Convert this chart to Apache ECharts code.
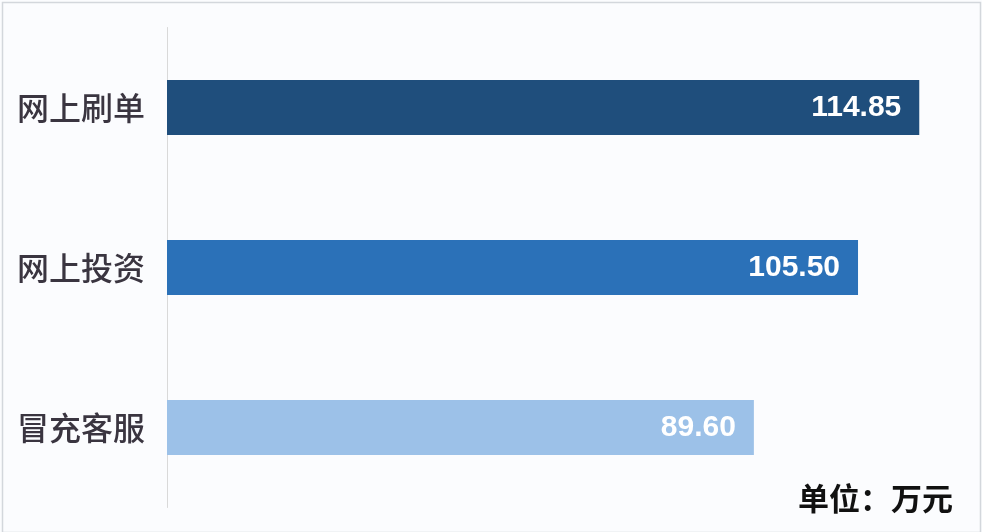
<!DOCTYPE html>
<html>
<head>
<meta charset="utf-8">
<script src="https://cdn.jsdelivr.net/npm/echarts@6/dist/echarts.min.js"></script>
<style>
html,body{margin:0;padding:0;background:#fbfcfe;}
#main{width:982px;height:532px;}
</style>
</head>
<body>
<div id="main"></div>
<script>
const categories = ['网上刷单', '网上投资', '冒充客服'];
const values = [114.85, 105.50, 89.60];
const barColors = ['#1f4e7c', '#2b71b8', '#9cc1e8'];
const unitText = '单位：万元';

const chart = echarts.init(document.getElementById('main'));
chart.setOption({
  backgroundColor: '#fbfcfe',
  animation: false,
  title: {
    text: unitText,
    right: 24,
    bottom: 13,
    textStyle: {
      fontFamily: 'Noto Sans CJK SC',
      fontSize: 31,
      fontWeight: 'bold',
      color: '#111'
    }
  },
  graphic: [{
    type: 'rect',
    left: 0, top: 0,
    shape: { x: 0.5, y: 0.5, width: 978, height: 530 },
    style: { fill: 'none', stroke: '#d3d7dc', lineWidth: 1.5 },
    silent: true
  }],
  grid: { left: 167, top: 27.5, width: 786, height: 480, containLabel: false },
  xAxis: {
    type: 'value', min: 0, max: 120, show: false,
    splitLine: { show: false }
  },
  yAxis: {
    type: 'category',
    data: categories,
    inverse: true,
    axisLine: { show: true, lineStyle: { color: '#d9d9d9', width: 1 } },
    axisTick: { show: false },
    axisLabel: {
      margin: 22,
      fontFamily: 'Noto Sans CJK SC',
      fontSize: 32,
      fontWeight: 500,
      color: '#3a3540'
    }
  },
  series: [{
    type: 'bar',
    barWidth: 55,
    data: values.map((v, i) => ({ value: v, itemStyle: { color: barColors[i] } })),
    label: {
      show: true,
      position: 'insideRight',
      distance: 18,
      formatter: p => p.value.toFixed(2),
      color: '#ffffff',
      fontFamily: 'Liberation Sans',
      fontWeight: 'bold',
      fontSize: 30
    }
  }]
});
</script>
</body>
</html>
